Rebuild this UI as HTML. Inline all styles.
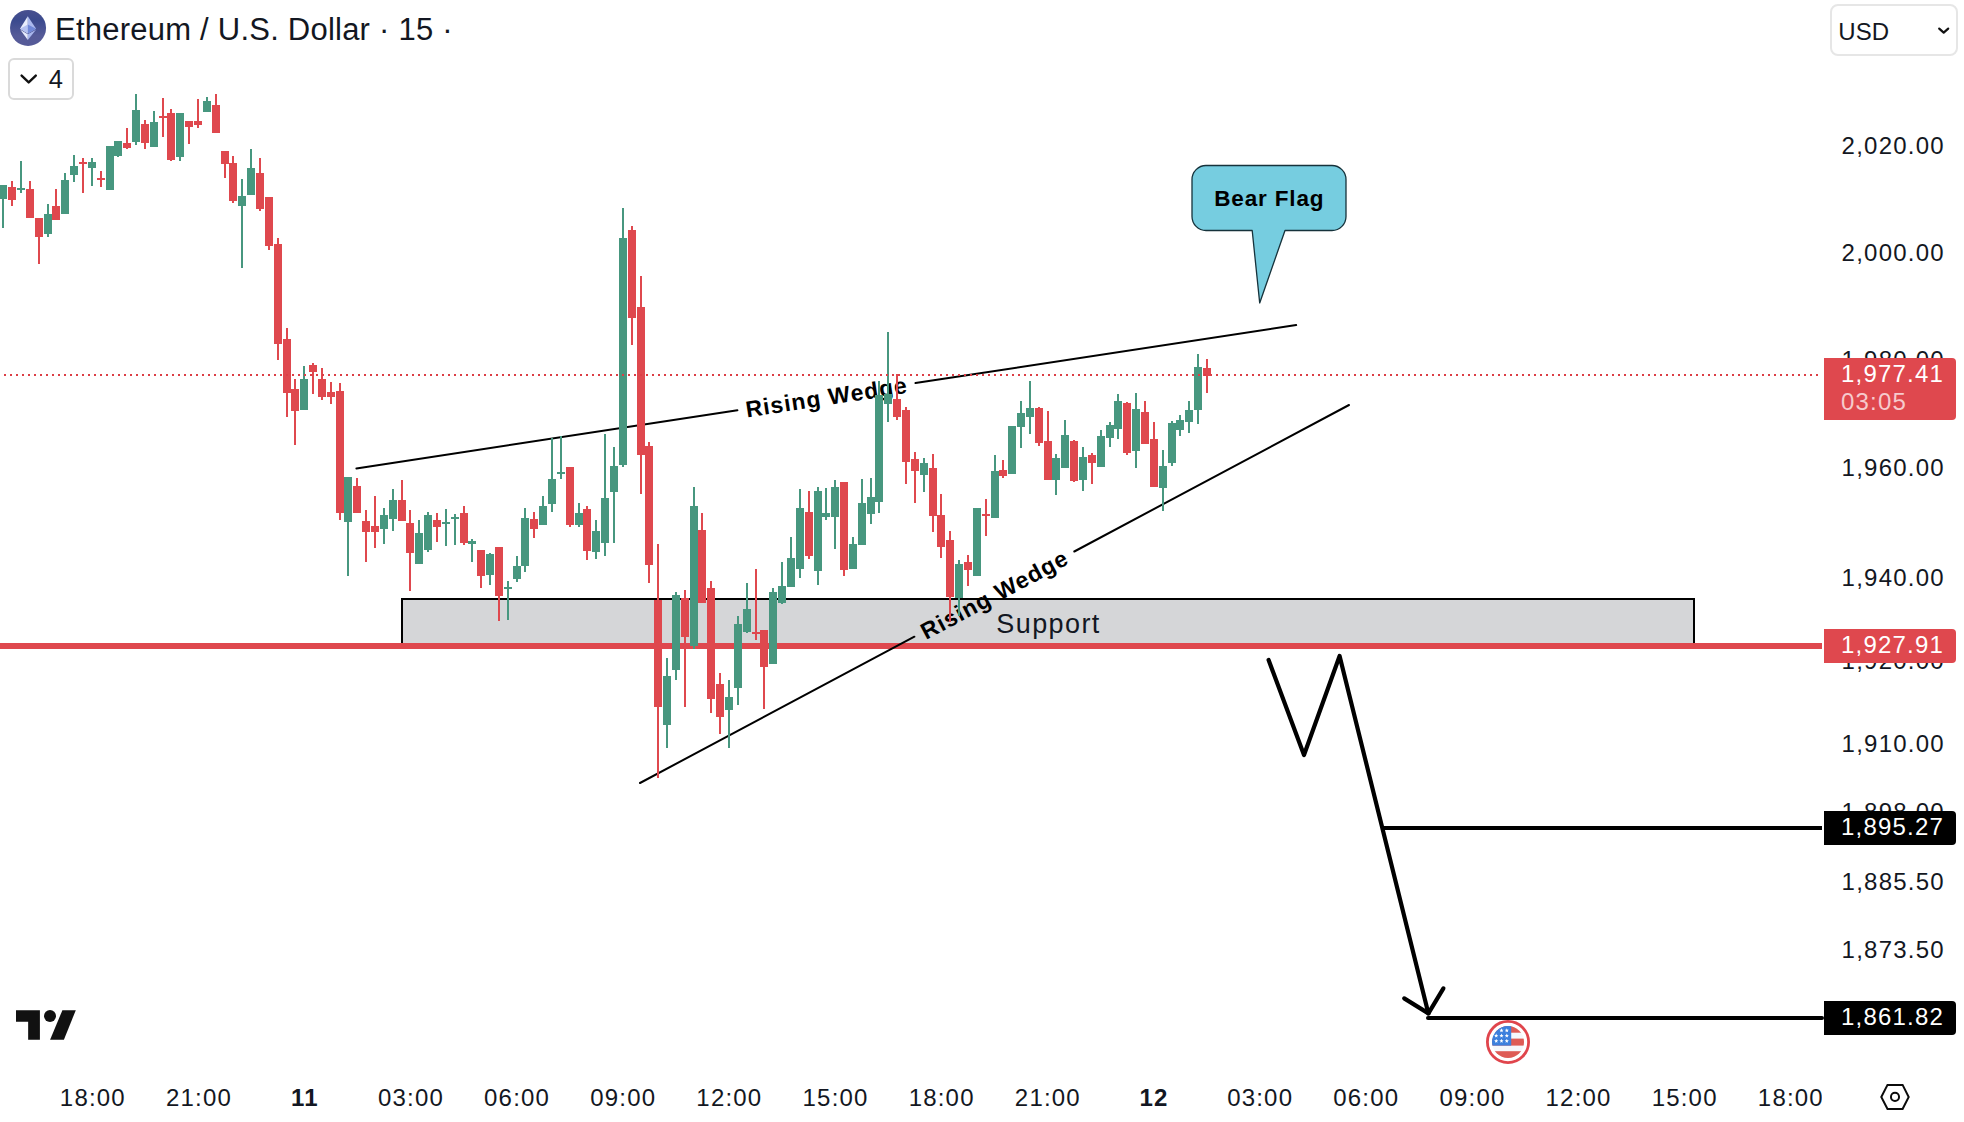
<!DOCTYPE html>
<html lang="en"><head><meta charset="utf-8"><title>Ethereum / U.S. Dollar</title>
<style>
html,body{margin:0;padding:0;background:#fff;}
body{width:1964px;height:1122px;position:relative;overflow:hidden;font-family:"Liberation Sans",sans-serif;color:#131722;}
#chart{position:absolute;left:0;top:0;}
.title{position:absolute;left:55px;top:9.5px;font-size:31px;line-height:40px;white-space:nowrap;letter-spacing:0.23px;color:#131722;}
.legendbtn{position:absolute;left:7.5px;top:57.5px;width:62px;height:38px;border:2px solid #dadada;border-radius:6px;background:transparent;}
.legendbtn span{position:absolute;left:39.3px;top:4.6px;font-size:25.5px;line-height:30px;}
.usd{position:absolute;left:1829.5px;top:3.8px;width:124px;height:48px;border:2px solid #e6e6e6;border-radius:8px;background:#fff;}
.usd span{position:absolute;left:6.8px;top:10.8px;font-size:24px;line-height:30px;letter-spacing:0.1px;color:#131722;}
.pl{position:absolute;left:1824px;width:132px;text-align:center;font-size:24px;line-height:28px;letter-spacing:1.25px;white-space:nowrap;color:#131722;text-indent:6.5px;}
.tl{position:absolute;top:1084px;width:80px;text-align:center;font-size:24px;line-height:28px;letter-spacing:1.2px;white-space:nowrap;color:#131722;text-indent:1px;}
.tl.b{font-weight:bold;}
#taxis{position:absolute;left:0;top:0;width:1822px;height:1122px;overflow:hidden;}
.tag{position:absolute;left:1824px;width:132px;border-radius:0 4px 4px 0;color:#fff;font-size:24px;letter-spacing:1.2px;text-align:center;white-space:nowrap;text-indent:5px;}
.tag.red{background:#DF484E;}
.tag.blk{background:#000;}
.tag .cd{color:rgba(255,255,255,.72);text-align:left;padding-left:17px;text-indent:0;}
</style></head>
<body>
<div id="axis"><div class="pl" style="top:132.0px">2,020.00</div><div class="pl" style="top:238.7px">2,000.00</div><div class="pl" style="top:346.4px">1,980.00</div><div class="pl" style="top:453.7px">1,960.00</div><div class="pl" style="top:563.9px">1,940.00</div><div class="pl" style="top:647.4px">1,920.00</div><div class="pl" style="top:730.1px">1,910.00</div><div class="pl" style="top:797.6px">1,898.00</div><div class="pl" style="top:868.0px">1,885.50</div><div class="pl" style="top:936.2px">1,873.50</div></div>
<div id="taxis"><div class="tl" style="left:52.4px">18:00</div><div class="tl" style="left:158.5px">21:00</div><div class="tl b" style="left:264.4px">11</div><div class="tl" style="left:370.5px">03:00</div><div class="tl" style="left:476.6px">06:00</div><div class="tl" style="left:582.8px">09:00</div><div class="tl" style="left:688.9px">12:00</div><div class="tl" style="left:795.1px">15:00</div><div class="tl" style="left:901.2px">18:00</div><div class="tl" style="left:1007.4px">21:00</div><div class="tl b" style="left:1113.5px">12</div><div class="tl" style="left:1219.7px">03:00</div><div class="tl" style="left:1325.8px">06:00</div><div class="tl" style="left:1432.0px">09:00</div><div class="tl" style="left:1538.1px">12:00</div><div class="tl" style="left:1644.2px">15:00</div><div class="tl" style="left:1750.4px">18:00</div></div>
<svg id="chart" width="1964" height="1122" viewBox="0 0 1964 1122" font-family="Liberation Sans, sans-serif">
<!-- support zone -->
<rect x="402" y="599" width="1292" height="45" fill="#D5D6D8" stroke="#000" stroke-width="2"/>
<line x1="0" y1="646" x2="1822" y2="646" stroke="#DF484E" stroke-width="6"/>
<text x="1048.5" y="632.6" font-size="27" letter-spacing="1.4" text-anchor="middle" fill="#131722">Support</text>
<!-- last price dotted line -->

<!-- wedge lines -->
<g stroke="#000" stroke-width="2" stroke-linecap="round">
<line x1="356.4" y1="468.4" x2="737.4" y2="410.3"/>
<line x1="915.5" y1="383.1" x2="1296.2" y2="325.1"/>
<line x1="640" y1="783" x2="914.4" y2="636.7"/>
<line x1="1074.3" y1="551.5" x2="1349" y2="405"/>
</g>
<text transform="translate(826.5,396.7) rotate(-8.67)" x="0" y="8.5" font-size="23" font-weight="bold" letter-spacing="1.0" text-anchor="middle" fill="#000">Rising Wedge</text>
<text transform="translate(994.3,594.1) rotate(-28.06)" x="0" y="8.5" font-size="23" font-weight="bold" letter-spacing="1.0" text-anchor="middle" fill="#000">Rising Wedge</text>
<!-- callout -->
<path d="M1206 165.5 H1332 A14 14 0 0 1 1346 179.5 V216.5 A14 14 0 0 1 1332 230.5 H1285 L1259.7 303 L1252.2 230.5 H1206 A14 14 0 0 1 1192 216.5 V179.5 A14 14 0 0 1 1206 165.5 Z" fill="#76CDE0" stroke="#16323B" stroke-width="1.3" stroke-linejoin="round"/>
<text x="1269.3" y="205.6" font-size="22.5" font-weight="bold" letter-spacing="0.85" text-anchor="middle" fill="#000">Bear Flag</text>
<!-- projection path -->
<polyline points="1268.6,660 1304,755 1339.6,656 1428.4,1013.4" fill="none" stroke="#000" stroke-width="4.2" stroke-linecap="round" stroke-linejoin="round"/>
<polyline points="1404.2,998.4 1428.4,1013.4 1443.4,988.4" fill="none" stroke="#000" stroke-width="4.2" stroke-linecap="round" stroke-linejoin="round"/>
<line x1="1383" y1="828" x2="1822" y2="828" stroke="#000" stroke-width="4"/>
<line x1="1428" y1="1018" x2="1822" y2="1018" stroke="#000" stroke-width="4" stroke-linecap="round"/>
<!-- candles -->
<g shape-rendering="crispEdges">
<g fill="#47977F"><rect x="-1" y="185" width="8" height="14"/><rect x="2" y="185" width="2" height="43"/><rect x="17" y="188" width="8" height="2"/><rect x="20" y="161" width="2" height="32"/><rect x="44" y="214" width="8" height="20"/><rect x="47" y="204" width="2" height="33"/><rect x="61" y="180" width="8" height="34"/><rect x="64" y="173" width="2" height="41"/><rect x="70" y="166" width="8" height="9"/><rect x="73" y="155" width="2" height="27"/><rect x="88" y="162" width="8" height="6"/><rect x="91" y="158" width="2" height="28"/><rect x="106" y="146" width="8" height="44"/><rect x="109" y="146" width="2" height="44"/><rect x="114" y="141" width="8" height="15"/><rect x="117" y="141" width="2" height="16"/><rect x="132" y="110" width="8" height="32"/><rect x="135" y="94" width="2" height="51"/><rect x="150" y="122" width="8" height="25"/><rect x="153" y="111" width="2" height="36"/><rect x="176" y="113" width="8" height="44"/><rect x="179" y="113" width="2" height="48"/><rect x="203" y="101" width="8" height="11"/><rect x="206" y="97" width="2" height="15"/><rect x="238" y="196" width="8" height="10"/><rect x="241" y="179" width="2" height="89"/><rect x="247" y="168" width="8" height="27"/><rect x="250" y="149" width="2" height="46"/><rect x="300" y="379" width="8" height="31"/><rect x="303" y="366" width="2" height="44"/><rect x="344" y="477" width="8" height="45"/><rect x="347" y="477" width="2" height="99"/><rect x="380" y="515" width="8" height="14"/><rect x="383" y="508" width="2" height="36"/><rect x="389" y="500" width="8" height="19"/><rect x="392" y="489" width="2" height="42"/><rect x="415" y="533" width="8" height="31"/><rect x="418" y="520" width="2" height="44"/><rect x="424" y="515" width="8" height="35"/><rect x="427" y="512" width="2" height="40"/><rect x="442" y="522" width="8" height="2"/><rect x="445" y="509" width="2" height="37"/><rect x="451" y="517" width="8" height="2"/><rect x="454" y="514" width="2" height="31"/><rect x="468" y="541" width="8" height="3"/><rect x="471" y="539" width="2" height="23"/><rect x="486" y="554" width="8" height="21"/><rect x="489" y="553" width="2" height="32"/><rect x="504" y="587" width="8" height="2"/><rect x="507" y="581" width="2" height="39"/><rect x="513" y="566" width="8" height="13"/><rect x="516" y="556" width="2" height="26"/><rect x="521" y="518" width="8" height="48"/><rect x="524" y="508" width="2" height="64"/><rect x="539" y="506" width="8" height="19"/><rect x="542" y="496" width="2" height="29"/><rect x="548" y="479" width="8" height="25"/><rect x="551" y="438" width="2" height="74"/><rect x="557" y="472" width="8" height="2"/><rect x="560" y="436" width="2" height="43"/><rect x="575" y="513" width="8" height="12"/><rect x="578" y="503" width="2" height="24"/><rect x="592" y="531" width="8" height="21"/><rect x="595" y="520" width="2" height="39"/><rect x="601" y="498" width="8" height="45"/><rect x="604" y="434" width="2" height="122"/><rect x="610" y="466" width="8" height="26"/><rect x="613" y="447" width="2" height="96"/><rect x="619" y="238" width="8" height="227"/><rect x="622" y="208" width="2" height="259"/><rect x="663" y="676" width="8" height="49"/><rect x="666" y="658" width="2" height="90"/><rect x="672" y="595" width="8" height="75"/><rect x="675" y="592" width="2" height="88"/><rect x="690" y="506" width="8" height="140"/><rect x="693" y="487" width="2" height="162"/><rect x="725" y="697" width="8" height="13"/><rect x="728" y="680" width="2" height="68"/><rect x="734" y="624" width="8" height="64"/><rect x="737" y="616" width="2" height="89"/><rect x="743" y="609" width="8" height="23"/><rect x="746" y="583" width="2" height="50"/><rect x="769" y="592" width="8" height="72"/><rect x="772" y="588" width="2" height="76"/><rect x="778" y="586" width="8" height="17"/><rect x="781" y="562" width="2" height="42"/><rect x="787" y="558" width="8" height="29"/><rect x="790" y="537" width="2" height="50"/><rect x="796" y="508" width="8" height="61"/><rect x="799" y="489" width="2" height="89"/><rect x="814" y="491" width="8" height="80"/><rect x="817" y="487" width="2" height="98"/><rect x="822" y="513" width="8" height="4"/><rect x="825" y="488" width="2" height="32"/><rect x="831" y="487" width="8" height="30"/><rect x="834" y="480" width="2" height="69"/><rect x="849" y="544" width="8" height="25"/><rect x="852" y="537" width="2" height="32"/><rect x="858" y="503" width="8" height="42"/><rect x="861" y="479" width="2" height="66"/><rect x="867" y="497" width="8" height="17"/><rect x="870" y="478" width="2" height="46"/><rect x="875" y="395" width="8" height="107"/><rect x="878" y="381" width="2" height="132"/><rect x="884" y="394" width="8" height="10"/><rect x="887" y="332" width="2" height="90"/><rect x="920" y="463" width="8" height="12"/><rect x="923" y="458" width="2" height="34"/><rect x="955" y="564" width="8" height="34"/><rect x="958" y="560" width="2" height="56"/><rect x="973" y="508" width="8" height="68"/><rect x="976" y="508" width="2" height="68"/><rect x="991" y="471" width="8" height="47"/><rect x="994" y="455" width="2" height="63"/><rect x="1008" y="426" width="8" height="48"/><rect x="1011" y="426" width="2" height="48"/><rect x="1017" y="413" width="8" height="14"/><rect x="1020" y="401" width="2" height="47"/><rect x="1026" y="408" width="8" height="9"/><rect x="1029" y="381" width="2" height="53"/><rect x="1052" y="458" width="8" height="22"/><rect x="1055" y="454" width="2" height="41"/><rect x="1061" y="435" width="8" height="33"/><rect x="1064" y="420" width="2" height="48"/><rect x="1079" y="457" width="8" height="23"/><rect x="1082" y="447" width="2" height="44"/><rect x="1097" y="436" width="8" height="31"/><rect x="1100" y="430" width="2" height="37"/><rect x="1106" y="425" width="8" height="13"/><rect x="1109" y="422" width="2" height="25"/><rect x="1114" y="401" width="8" height="28"/><rect x="1117" y="394" width="2" height="45"/><rect x="1132" y="409" width="8" height="42"/><rect x="1135" y="393" width="2" height="75"/><rect x="1159" y="466" width="8" height="22"/><rect x="1162" y="450" width="2" height="61"/><rect x="1168" y="423" width="8" height="40"/><rect x="1171" y="421" width="2" height="45"/><rect x="1176" y="420" width="8" height="10"/><rect x="1179" y="415" width="2" height="21"/><rect x="1185" y="410" width="8" height="12"/><rect x="1188" y="401" width="2" height="32"/><rect x="1194" y="367" width="8" height="43"/><rect x="1197" y="354" width="2" height="70"/></g>
<g fill="#DF484E"><rect x="8" y="187" width="8" height="13"/><rect x="11" y="181" width="2" height="25"/><rect x="26" y="189" width="8" height="29"/><rect x="29" y="181" width="2" height="37"/><rect x="35" y="218" width="8" height="19"/><rect x="38" y="218" width="2" height="46"/><rect x="52" y="206" width="8" height="14"/><rect x="55" y="189" width="2" height="31"/><rect x="79" y="162" width="8" height="2"/><rect x="82" y="158" width="2" height="35"/><rect x="97" y="178" width="8" height="2"/><rect x="100" y="171" width="2" height="16"/><rect x="123" y="143" width="8" height="5"/><rect x="126" y="128" width="2" height="21"/><rect x="141" y="124" width="8" height="19"/><rect x="144" y="120" width="2" height="29"/><rect x="159" y="116" width="8" height="2"/><rect x="162" y="98" width="2" height="39"/><rect x="167" y="113" width="8" height="47"/><rect x="170" y="109" width="2" height="52"/><rect x="185" y="121" width="8" height="6"/><rect x="188" y="121" width="2" height="23"/><rect x="194" y="121" width="8" height="4"/><rect x="197" y="99" width="2" height="29"/><rect x="212" y="105" width="8" height="28"/><rect x="215" y="94" width="2" height="39"/><rect x="221" y="151" width="8" height="13"/><rect x="224" y="151" width="2" height="27"/><rect x="229" y="163" width="8" height="38"/><rect x="232" y="156" width="2" height="47"/><rect x="256" y="173" width="8" height="36"/><rect x="259" y="158" width="2" height="53"/><rect x="265" y="197" width="8" height="49"/><rect x="268" y="197" width="2" height="53"/><rect x="274" y="244" width="8" height="100"/><rect x="277" y="238" width="2" height="122"/><rect x="283" y="339" width="8" height="54"/><rect x="286" y="328" width="2" height="89"/><rect x="291" y="389" width="8" height="22"/><rect x="294" y="379" width="2" height="66"/><rect x="309" y="365" width="8" height="7"/><rect x="312" y="363" width="2" height="31"/><rect x="318" y="379" width="8" height="18"/><rect x="321" y="368" width="2" height="32"/><rect x="327" y="392" width="8" height="5"/><rect x="330" y="382" width="2" height="22"/><rect x="336" y="391" width="8" height="122"/><rect x="339" y="383" width="2" height="137"/><rect x="353" y="486" width="8" height="27"/><rect x="356" y="478" width="2" height="35"/><rect x="362" y="521" width="8" height="11"/><rect x="365" y="510" width="2" height="52"/><rect x="371" y="526" width="8" height="6"/><rect x="374" y="496" width="2" height="52"/><rect x="398" y="500" width="8" height="21"/><rect x="401" y="480" width="2" height="41"/><rect x="406" y="523" width="8" height="30"/><rect x="409" y="510" width="2" height="81"/><rect x="433" y="520" width="8" height="7"/><rect x="436" y="513" width="2" height="29"/><rect x="460" y="513" width="8" height="30"/><rect x="463" y="506" width="2" height="39"/><rect x="477" y="550" width="8" height="26"/><rect x="480" y="550" width="2" height="38"/><rect x="495" y="547" width="8" height="49"/><rect x="498" y="547" width="2" height="74"/><rect x="530" y="519" width="8" height="10"/><rect x="533" y="512" width="2" height="26"/><rect x="566" y="467" width="8" height="58"/><rect x="569" y="467" width="2" height="60"/><rect x="583" y="509" width="8" height="42"/><rect x="586" y="506" width="2" height="54"/><rect x="628" y="230" width="8" height="88"/><rect x="631" y="226" width="2" height="119"/><rect x="637" y="307" width="8" height="148"/><rect x="640" y="276" width="2" height="218"/><rect x="645" y="446" width="8" height="119"/><rect x="648" y="442" width="2" height="141"/><rect x="654" y="600" width="8" height="107"/><rect x="657" y="544" width="2" height="234"/><rect x="681" y="598" width="8" height="39"/><rect x="684" y="590" width="2" height="117"/><rect x="698" y="530" width="8" height="73"/><rect x="701" y="513" width="2" height="90"/><rect x="707" y="588" width="8" height="111"/><rect x="710" y="581" width="2" height="132"/><rect x="716" y="684" width="8" height="33"/><rect x="719" y="673" width="2" height="61"/><rect x="752" y="632" width="8" height="2"/><rect x="755" y="569" width="2" height="71"/><rect x="760" y="630" width="8" height="37"/><rect x="763" y="630" width="2" height="79"/><rect x="805" y="512" width="8" height="44"/><rect x="808" y="491" width="2" height="68"/><rect x="840" y="482" width="8" height="88"/><rect x="843" y="482" width="2" height="94"/><rect x="893" y="399" width="8" height="18"/><rect x="896" y="374" width="2" height="46"/><rect x="902" y="410" width="8" height="52"/><rect x="905" y="407" width="2" height="77"/><rect x="911" y="459" width="8" height="12"/><rect x="914" y="452" width="2" height="51"/><rect x="929" y="468" width="8" height="48"/><rect x="932" y="454" width="2" height="78"/><rect x="937" y="515" width="8" height="32"/><rect x="940" y="494" width="2" height="64"/><rect x="946" y="540" width="8" height="57"/><rect x="949" y="531" width="2" height="91"/><rect x="964" y="562" width="8" height="8"/><rect x="967" y="555" width="2" height="31"/><rect x="982" y="514" width="8" height="2"/><rect x="985" y="499" width="2" height="37"/><rect x="999" y="470" width="8" height="6"/><rect x="1002" y="460" width="2" height="18"/><rect x="1035" y="408" width="8" height="35"/><rect x="1038" y="407" width="2" height="39"/><rect x="1044" y="441" width="8" height="39"/><rect x="1047" y="411" width="2" height="69"/><rect x="1070" y="441" width="8" height="40"/><rect x="1073" y="440" width="2" height="42"/><rect x="1088" y="455" width="8" height="8"/><rect x="1091" y="453" width="2" height="31"/><rect x="1123" y="403" width="8" height="50"/><rect x="1126" y="402" width="2" height="53"/><rect x="1141" y="412" width="8" height="32"/><rect x="1144" y="401" width="2" height="43"/><rect x="1150" y="439" width="8" height="48"/><rect x="1153" y="422" width="2" height="65"/><rect x="1203" y="368" width="8" height="8"/><rect x="1206" y="359" width="2" height="34"/></g>
</g>
<line x1="4" y1="375" x2="1820" y2="375" stroke="#DC3E46" stroke-width="2" stroke-dasharray="2 4" shape-rendering="crispEdges"/>
<!-- economic event flag -->
<g>
<circle cx="1508" cy="1042" r="20.6" fill="#fff" stroke="#E0454C" stroke-width="2.8"/>
<clipPath id="fc"><circle cx="1508" cy="1042" r="16"/></clipPath>
<g clip-path="url(#fc)">
<rect x="1490" y="1024" width="36" height="36" fill="#F5F7FB"/>
<rect x="1490" y="1024" width="36" height="8.7" fill="#DE5B55"/>
<rect x="1490" y="1038.6" width="36" height="7" fill="#DE5B55"/>
<rect x="1490" y="1051.2" width="36" height="9" fill="#DE5B55"/>
<rect x="1490" y="1024" width="21.2" height="21.6" fill="#3C80DD"/>
<g fill="#fff">
<path id="st" d="M0 -2.2 L0.6 -0.7 L2.1 -0.7 L0.9 0.3 L1.3 1.8 L0 0.9 L-1.3 1.8 L-0.9 0.3 L-2.1 -0.7 L-0.6 -0.7 Z" transform="translate(1501.5,1030.5)"/>
<path d="M0 -2.2 L0.6 -0.7 L2.1 -0.7 L0.9 0.3 L1.3 1.8 L0 0.9 L-1.3 1.8 L-0.9 0.3 L-2.1 -0.7 L-0.6 -0.7 Z" transform="translate(1506.8,1030.5)"/>
<path d="M0 -2.2 L0.6 -0.7 L2.1 -0.7 L0.9 0.3 L1.3 1.8 L0 0.9 L-1.3 1.8 L-0.9 0.3 L-2.1 -0.7 L-0.6 -0.7 Z" transform="translate(1496.2,1035.8)"/>
<path d="M0 -2.2 L0.6 -0.7 L2.1 -0.7 L0.9 0.3 L1.3 1.8 L0 0.9 L-1.3 1.8 L-0.9 0.3 L-2.1 -0.7 L-0.6 -0.7 Z" transform="translate(1501.5,1035.8)"/>
<path d="M0 -2.2 L0.6 -0.7 L2.1 -0.7 L0.9 0.3 L1.3 1.8 L0 0.9 L-1.3 1.8 L-0.9 0.3 L-2.1 -0.7 L-0.6 -0.7 Z" transform="translate(1506.8,1035.8)"/>
<path d="M0 -2.2 L0.6 -0.7 L2.1 -0.7 L0.9 0.3 L1.3 1.8 L0 0.9 L-1.3 1.8 L-0.9 0.3 L-2.1 -0.7 L-0.6 -0.7 Z" transform="translate(1496.2,1041)"/>
<path d="M0 -2.2 L0.6 -0.7 L2.1 -0.7 L0.9 0.3 L1.3 1.8 L0 0.9 L-1.3 1.8 L-0.9 0.3 L-2.1 -0.7 L-0.6 -0.7 Z" transform="translate(1501.5,1041)"/>
<path d="M0 -2.2 L0.6 -0.7 L2.1 -0.7 L0.9 0.3 L1.3 1.8 L0 0.9 L-1.3 1.8 L-0.9 0.3 L-2.1 -0.7 L-0.6 -0.7 Z" transform="translate(1506.8,1041)"/>
</g>
</g>
</g>
<!-- TradingView logo -->
<g fill="#111">
<path d="M16 1010.2 H39.9 V1039.7 H28.15 V1021.7 H16 Z"/>
<circle cx="50" cy="1016" r="6"/>
<path d="M62.4 1010.2 H75.8 L63.9 1039.7 H50.1 Z"/>
</g>
<!-- settings icon -->
<g fill="none" stroke="#0b0b0b" stroke-width="2">
<path d="M1881.3 1097 L1887.5 1084.9 H1902.6 L1908.7 1097 L1902.6 1108.9 H1887.5 Z" stroke-linejoin="miter"/>
<circle cx="1895" cy="1096.9" r="4.05"/>
</g>
<!-- ETH logo -->
<defs><linearGradient id="eg" x1="0" y1="0" x2="0" y2="1"><stop offset="0" stop-color="#48508F"/><stop offset="0.3" stop-color="#3B4A8E"/><stop offset="0.72" stop-color="#565B98"/><stop offset="1" stop-color="#555A98"/></linearGradient></defs>
<circle cx="28.05" cy="27.95" r="18" fill="url(#eg)"/>
<path d="M27.8 16.2 L20 28.8 L27.8 33.4 Z" fill="#E8EDFC"/>
<path d="M27.8 16.2 L36.1 28.8 L27.8 33.4 Z" fill="#AAB9EE"/>
<path d="M27.8 24.6 L20 28.8 L27.8 33.4 Z" fill="#B4C1F1"/>
<path d="M27.8 24.6 L36.1 28.8 L27.8 33.4 Z" fill="#7088D8"/>
<path d="M27.8 34.2 L20.3 29.7 L27.8 40.1 Z" fill="#E6EBFC"/>
<path d="M27.8 34.2 L36 29.7 L27.8 40.1 Z" fill="#A8B6EC"/>
<!-- chevrons -->
<polyline points="21.6,75.6 28.7,82.4 35.8,75.6" fill="none" stroke="#111" stroke-width="2.4" stroke-linecap="round" stroke-linejoin="round" transform="translate(0,0)"/>
</svg>
<div class="title">Ethereum / U.S. Dollar · 15 ·</div>
<div class="legendbtn"><span>4</span></div>
<div class="usd"><span>USD</span><svg width="16" height="12" viewBox="0 0 16 12" style="position:absolute;left:105px;top:20px"><polyline points="2.2,2.6 6.7,6.6 11.2,2.6" fill="none" stroke="#111" stroke-width="2.2" stroke-linecap="round" stroke-linejoin="round"/></svg></div>
<div class="tag red" style="top:358px;height:62px;"><div style="line-height:28px;padding-top:2px">1,977.41</div><div class="cd" style="line-height:28px">03:05</div></div>
<div class="tag red" style="top:629px;height:34px;line-height:32px;">1,927.91</div>
<div class="tag blk" style="top:811px;height:34px;line-height:32px;">1,895.27</div>
<div class="tag blk" style="top:1001px;height:34px;line-height:32px;">1,861.82</div>
</body></html>
